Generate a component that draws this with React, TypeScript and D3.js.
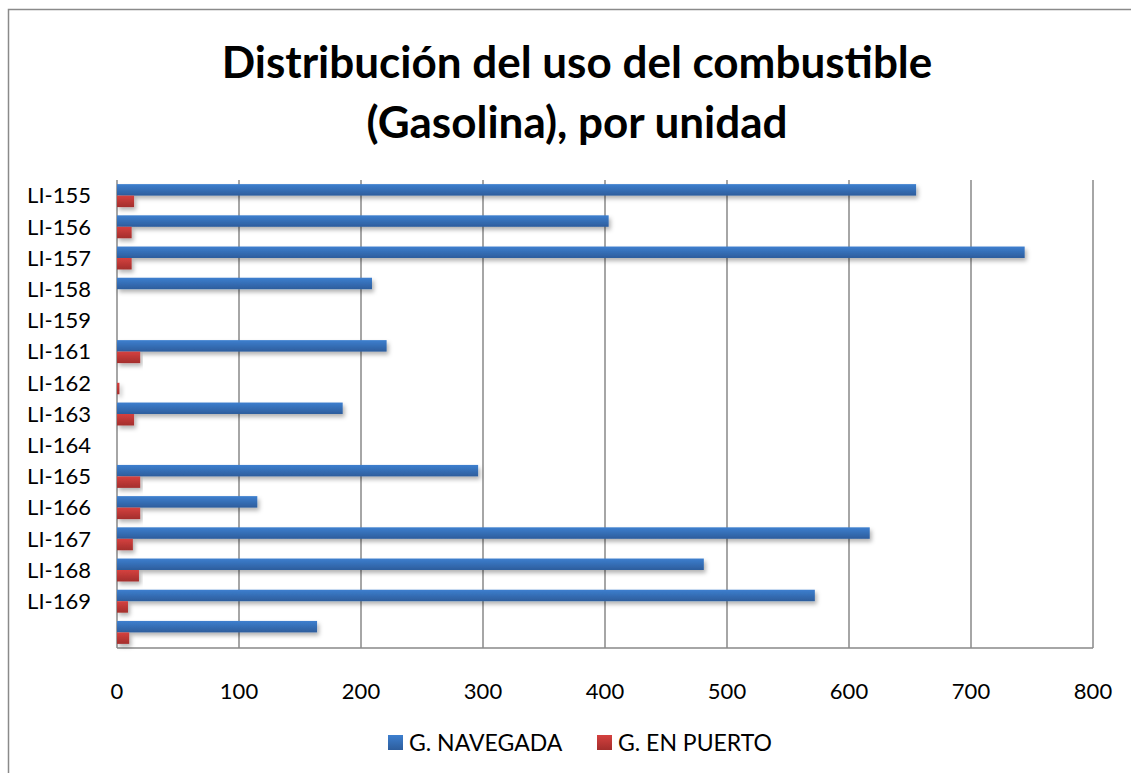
import React from "react";
import * as d3 from "d3";

const categories = ["LI-155","LI-156","LI-157","LI-158","LI-159","LI-161","LI-162","LI-163","LI-164","LI-165","LI-166","LI-167","LI-168","LI-169",""];
const navegada = [655, 403, 744, 209, 0, 221, 0, 185, 0, 296, 115, 617, 481, 572, 164];
const enPuerto = [14, 12, 12, 0, 0, 19, 2, 14, 0, 19, 19, 13, 18, 9, 10];
const xTicks = [0, 100, 200, 300, 400, 500, 600, 700, 800];
const seriesNames = ["G. NAVEGADA", "G. EN PUERTO"];
const titleLines = ["Distribución del uso del combustible", "(Gasolina), por unidad"];

const W = 1131, H = 773;
const plot = { left: 117, right: 1093, top: 180, bottom: 648 };
const FONT = "Lato, 'Open Sans', sans-serif";

export default function App() {
  const x = d3.scaleLinear().domain([0, 800]).range([plot.left, plot.right]);
  const y = d3.scaleBand<number>().domain(categories.map((_, i) => i)).range([plot.top, plot.bottom]).paddingInner(0).paddingOuter(0);
  const inner = d3.scaleBand<string>().domain(["nav", "pto"]).range([0, y.bandwidth()]).paddingInner(0).paddingOuter(0.36);
  const series = [
    { key: "nav", values: navegada, fill: "url(#gBlue)" },
    { key: "pto", values: enPuerto, fill: "url(#gRed)" },
  ];
  return (
    <svg width={W} height={H} style={{ position: "absolute", left: 0, top: 0, background: "#fff" }} fontFamily={FONT}>
      <defs>
        <linearGradient id="gBlue" x1="0" y1="0" x2="0" y2="1">
          <stop offset="0" stopColor="#3d7fcf" />
          <stop offset="1" stopColor="#2d5d9c" />
        </linearGradient>
        <linearGradient id="gRed" x1="0" y1="0" x2="0" y2="1">
          <stop offset="0" stopColor="#d5413f" />
          <stop offset="1" stopColor="#a32e2c" />
        </linearGradient>
        <filter id="shadow" x="-5%" y="-50%" width="115%" height="250%">
          <feDropShadow dx="2" dy="3" stdDeviation="2" floodColor="#000" floodOpacity="0.3" />
        </filter>
      </defs>
      <rect x={8.5} y={9.5} width={W + 20} height={H + 20} fill="#fff" stroke="#8a8a8a" strokeWidth={1.5} />
      {titleLines.map((t, i) => (
        <text key={i} x={577} y={78 + i * 60} textAnchor="middle" fontSize={44} fontWeight={700} fill="#000">{t}</text>
      ))}
      {xTicks.map((t) => (
        <line key={t} x1={x(t)} x2={x(t)} y1={plot.top} y2={plot.bottom} stroke="#888" strokeWidth={1.5} />
      ))}
      <line x1={plot.left} x2={plot.right} y1={plot.bottom} y2={plot.bottom} stroke="#888" strokeWidth={1.5} />
      {series.map((s) => (
        <g key={s.key} filter="url(#shadow)">
          {s.values.map((v, i) =>
            v > 0 ? (
              <rect key={i} x={x(0)} y={(y(i) as number) + (inner(s.key) as number)} width={x(v) - x(0)} height={inner.bandwidth()} fill={s.fill} />
            ) : null
          )}
        </g>
      ))}
      {categories.map((c, i) => (
        <text key={i} x={91} y={(y(i) as number) + y.bandwidth() / 2} dy="0.35em" textAnchor="end" fontSize={22} fill="#000">{c}</text>
      ))}
      {xTicks.map((t) => (
        <text key={t} x={x(t)} y={691} dy="0.35em" textAnchor="middle" fontSize={22} fill="#000">{t}</text>
      ))}
      <rect x={388} y={735} width={15} height={15} fill="url(#gBlue)" />
      <text x={409} y={742.5} dy="0.35em" fontSize={23} fill="#000">{seriesNames[0]}</text>
      <rect x={597} y={735} width={15} height={15} fill="url(#gRed)" />
      <text x={618} y={742.5} dy="0.35em" fontSize={23} fill="#000">{seriesNames[1]}</text>
    </svg>
  );
}
